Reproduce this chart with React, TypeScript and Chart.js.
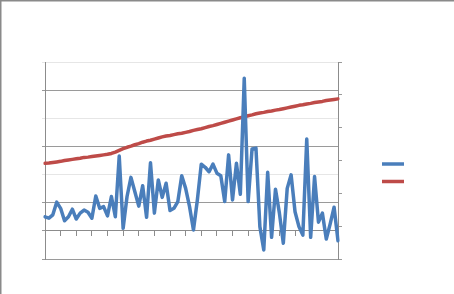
import React, { useEffect, useRef } from "react";
import { Chart, registerables } from "chart.js";

Chart.register(...registerables);

const categories: string[] = Array.from({ length: 76 }, (_, i) => String(i + 1));

const blueValues: number[] = [
  0.50, 0.45, 0.57, 1.02, 0.80, 0.36, 0.50, 0.77, 0.42, 0.63,
  0.74, 0.66, 0.45, 1.24, 0.80, 0.86, 0.53, 1.22, 0.50, 2.66,
  0.09, 1.22, 1.90, 1.39, 0.88, 1.60, 0.48, 2.42, 0.63, 1.81,
  1.19, 1.69, 0.72, 0.80, 1.04, 1.96, 1.51, 0.86, 0.03, 1.10,
  2.37, 2.26, 2.10, 2.37, 2.05, 1.96, 1.04, 2.70, 1.10, 2.40,
  1.30, 5.42, 1.04, 2.91, 2.94, 0.15, -0.68, 2.08, -0.23, 1.48,
  0.63, -0.44, 1.51, 1.99, 0.68, 0.15, -0.15, 3.26, -0.23, 1.93,
  0.31, 0.63, -0.29, 0.25, 0.84, -0.35,
];

const redValues: number[] = [
  2.40, 2.41, 2.43, 2.45, 2.47, 2.50, 2.52, 2.54, 2.56, 2.58,
  2.61, 2.62, 2.64, 2.66, 2.68, 2.70, 2.72, 2.75, 2.80, 2.86,
  2.92, 2.97, 3.01, 3.06, 3.10, 3.15, 3.19, 3.22, 3.26, 3.30,
  3.34, 3.37, 3.39, 3.42, 3.45, 3.47, 3.50, 3.53, 3.57, 3.60,
  3.63, 3.67, 3.71, 3.74, 3.78, 3.82, 3.86, 3.90, 3.94, 3.98,
  4.02, 4.05, 4.09, 4.12, 4.16, 4.19, 4.21, 4.24, 4.26, 4.29,
  4.31, 4.34, 4.37, 4.40, 4.43, 4.46, 4.48, 4.51, 4.53, 4.56,
  4.58, 4.60, 4.63, 4.65, 4.67, 4.69,
];

const seriesNames: string[] = ["", ""];
const yMin = -1;
const yMax = 6;
const y2Min = 0;
const y2Max = 6;

const BLUE = "#4A7EBB";
const RED = "#BE4B48";
const DARK = "#9a9a9a";
const LIGHT = "#e6e6e6";
const AXIS = "#8c8c8c";

const decor = {
  id: "decor",
  beforeDraw(chart: any) {
    const { ctx, width, height } = chart;
    ctx.save();
    ctx.fillStyle = "#ffffff";
    ctx.fillRect(0, 0, width, height);
    ctx.restore();
  },
  afterDraw(chart: any) {
    const { ctx } = chart;
    ctx.save();
    ctx.strokeStyle = "#8a8a8a";
    ctx.lineWidth = 1.5;
    ctx.beginPath();
    ctx.moveTo(0.75, chart.height);
    ctx.lineTo(0.75, 0.75);
    ctx.lineTo(chart.width, 0.75);
    ctx.stroke();
    // legend samples (no text)
    const ds = chart.data.datasets;
    const ys = [164, 181.5];
    ds.forEach((d: any, i: number) => {
      ctx.strokeStyle = d.borderColor;
      ctx.lineWidth = 3.5;
      ctx.lineCap = "butt";
      ctx.beginPath();
      ctx.moveTo(382, ys[i]);
      ctx.lineTo(404, ys[i]);
      ctx.stroke();
    });
    ctx.restore();
  },
};

export default function App() {
  const ref = useRef<HTMLCanvasElement | null>(null);
  useEffect(() => {
    document.body.style.margin = "0";
    if (!ref.current) return;
    const chart = new Chart(ref.current, {
      type: "line",
      data: {
        labels: categories,
        datasets: [
          {
            label: seriesNames[0],
            data: blueValues,
            borderColor: BLUE,
            backgroundColor: BLUE,
            borderWidth: 3.5,
            pointRadius: 0,
            tension: 0,
            borderJoinStyle: "round",
            borderCapStyle: "round",
            yAxisID: "y",
          },
          {
            label: seriesNames[1],
            data: redValues,
            borderColor: RED,
            backgroundColor: RED,
            borderWidth: 3.5,
            pointRadius: 0,
            tension: 0,
            borderJoinStyle: "round",
            borderCapStyle: "round",
            yAxisID: "y",
          },
        ],
      },
      options: {
        responsive: false,
        animation: false,
        devicePixelRatio: 1,
        layout: { padding: { left: 42, right: 112, top: 62, bottom: 35 } },
        plugins: { legend: { display: false }, tooltip: { enabled: false } },
        scales: {
          x: {
            type: "category",
            position: { y: 0 } as any,
            offset: false,
            ticks: { display: false, autoSkip: false },
            grid: {
              drawOnChartArea: false,
              drawTicks: true,
              tickLength: 5,
              tickColor: (c: any) => (c.index > 0 && c.index % 4 === 0 ? AXIS : "rgba(0,0,0,0)"),
            },
            border: { display: true, color: AXIS, width: 1 },
          },
          y: {
            position: "left",
            min: yMin,
            max: yMax,
            ticks: { display: false, stepSize: 1 },
            grid: {
              tickLength: 3,
              color: (c: any) => {
                const v = c.tick ? c.tick.value : 0;
                return v === 6 || v === 4 || v === 2 ? LIGHT : DARK;
              },
            },
            border: { display: true, color: AXIS, width: 1 },
          },
          y2: {
            position: "right",
            min: y2Min,
            max: y2Max,
            ticks: { display: false, stepSize: 1 },
            grid: { drawOnChartArea: false, tickLength: 4, color: DARK },
            border: { display: true, color: AXIS, width: 1 },
          },
        },
      },
      plugins: [decor],
    });
    return () => chart.destroy();
  }, []);
  return (
    <div style={{ position: "fixed", left: 0, top: 0, width: 454, height: 294 }}>
      <canvas ref={ref} width={454} height={294} style={{ width: 454, height: 294, display: "block" }} />
    </div>
  );
}
